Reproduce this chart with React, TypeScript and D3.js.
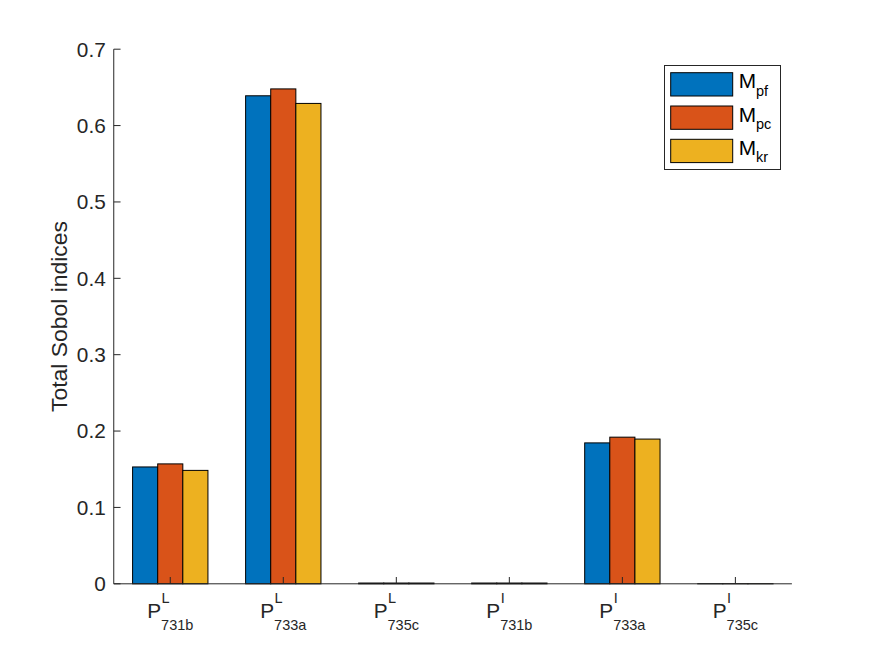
import React from "react";
import * as d3 from "d3";

const categories = ["731b", "733a", "735c", "731b", "733a", "735c"];
const superscripts = ["L", "L", "L", "I", "I", "I"];
const seriesNames = ["pf", "pc", "kr"];
const seriesMpf = [0.153, 0.639, 0.001, 0.001, 0.1845, 0.0001];
const seriesMpc = [0.157, 0.648, 0.001, 0.001, 0.192, 0.0001];
const seriesMkr = [0.1485, 0.629, 0.001, 0.001, 0.1895, 0.0001];
const yTicks = [0, 0.1, 0.2, 0.3, 0.4, 0.5, 0.6, 0.7];
const colors = ["#0072BD", "#D95319", "#EDB120"];

const W = 875;
const H = 656;
const left = 113.75;
const right = 791.9;
const top = 49.2;
const bottom = 583.8;
const FONT = "'Liberation Sans', Arial, Helvetica, sans-serif";
const AX = "#262626";

function measure(text: string, size: number): number {
  if (typeof document === "undefined") return text.length * size * 0.55;
  const c = document.createElement("canvas");
  const ctx = c.getContext("2d");
  if (!ctx) return text.length * size * 0.55;
  ctx.font = `${size}px 'Liberation Sans', Arial, sans-serif`;
  return ctx.measureText(text).width;
}

export default function App() {
  const series = [seriesMpf, seriesMpc, seriesMkr];
  const x = d3.scaleLinear().domain([0.5, categories.length + 0.5]).range([left, right]);
  const y = d3.scaleLinear().domain([0, 0.7]).range([bottom, top]);
  const n = series.length;
  const groupWidth = Math.min(0.8, n / (n + 1.5));
  const barW = groupWidth / n;
  const tickLen = 6.8;
  const big = 20.8;
  const small = 14.5;

  return (
    <svg
      width={W}
      height={H}
      style={{ position: "absolute", left: 0, top: 0, background: "#fff", display: "block" }}
      fontFamily={FONT}
    >
      <rect x={0} y={0} width={W} height={H} fill="#fff" />
      {/* bars */}
      {series.map((vals, j) =>
        vals.map((v, i) => {
          const cx = i + 1 + (j - (n - 1) / 2) * barW;
          const x0 = x(cx - barW / 2);
          const x1 = x(cx + barW / 2);
          return (
            <rect
              key={`${j}-${i}`}
              x={x0}
              y={y(v)}
              width={x1 - x0}
              height={y(0) - y(v)}
              fill={colors[j]}
              stroke="#000"
              strokeWidth={1}
            />
          );
        })
      )}
      {/* axes */}
      <line x1={left} x2={left} y1={top} y2={bottom} stroke={AX} strokeWidth={1} />
      <line x1={left} x2={right} y1={bottom} y2={bottom} stroke={AX} strokeWidth={1} />
      {yTicks.map((t) => (
        <g key={t}>
          <line x1={left} x2={left + tickLen} y1={y(t)} y2={y(t)} stroke={AX} strokeWidth={1} />
          <text x={left - 8} y={y(t) + 7.4} textAnchor="end" fontSize={big} fill={AX}>
            {d3.format(".1~f")(t)}
          </text>
        </g>
      ))}
      {categories.map((c, i) => {
        const cx = x(i + 1);
        const pW = measure("P", big);
        const subW = measure(c, small);
        const supW = measure(superscripts[i], small);
        const total = pW + Math.max(subW, supW);
        const sx = cx - total / 2;
        const base = bottom + 34.5;
        return (
          <g key={i}>
            <line x1={cx} x2={cx} y1={bottom} y2={bottom - tickLen} stroke={AX} strokeWidth={1} />
            <text x={sx} y={base} fontSize={big} fill={AX}>P</text>
            <text x={sx + pW + 0.5} y={base - 15} fontSize={small} fill={AX}>{superscripts[i]}</text>
            <text x={sx + pW} y={base + 12} fontSize={small} fill={AX}>{c}</text>
          </g>
        );
      })}
      {/* y label */}
      <text
        transform={`translate(${67},${(top + bottom) / 2}) rotate(-90)`}
        textAnchor="middle"
        fontSize={22.9}
        fill={AX}
      >
        Total Sobol indices
      </text>
      {/* legend */}
      <g>
        <rect x={664.5} y={65.5} width={116} height={104} fill="#fff" stroke={AX} strokeWidth={1} />
        {seriesNames.map((s, j) => {
          const ry = 72.7 + j * 33.3;
          return (
            <g key={s}>
              <rect x={670.7} y={ry} width={62} height={23.3} fill={colors[j]} stroke="#000" strokeWidth={1} />
              <text x={738.7} y={ry + 15.6} fontSize={big} fill="#000">M</text>
              <text x={738.7 + measure("M", big)} y={ry + 23} fontSize={small} fill="#000">{s}</text>
            </g>
          );
        })}
      </g>
    </svg>
  );
}
